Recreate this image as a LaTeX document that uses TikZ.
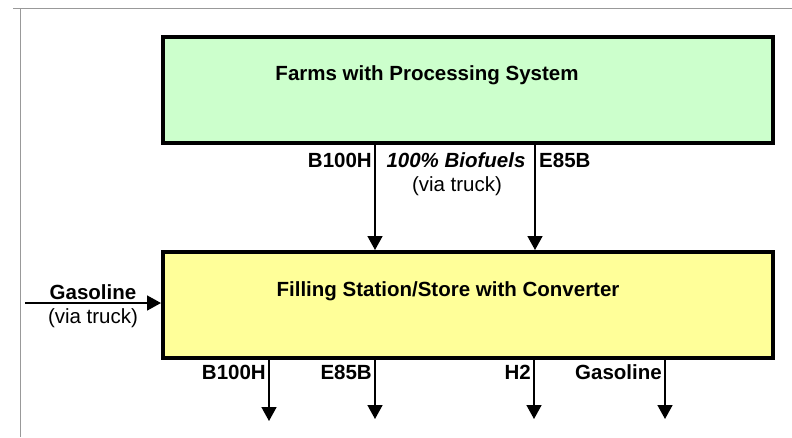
\documentclass[tikz,border=0pt]{standalone}
\usepackage{fontspec}
\setmainfont{Liberation Sans}
\usetikzlibrary{arrows.meta}

\definecolor{farmgreen}{RGB}{204,255,204}
\definecolor{storeyellow}{RGB}{255,255,153}

\begin{document}
\begin{tikzpicture}[x=1pt, y=-1pt]
    \tikzstyle{every node}=[inner sep=0pt, font=\fontsize{20.5}{24}\selectfont];
    \tikzstyle{box}=[draw, line width=4pt, minimum width=610pt, minimum height=106pt];
    \tikzstyle{flow}=[line width=1.6pt, -{Triangle[width=15pt,length=14pt]}];
    \useasboundingbox (0,0) rectangle (792,437);
    \draw[gray!80, line width=1pt] (13,8) -- (792,8) (20,8) -- (20,437);
    \node[box, fill=farmgreen] (F) at (468,90) {};
    \node[box, fill=storeyellow] (S) at (468,305) {};
    \node[font=\fontsize{20.5}{24}\selectfont\bfseries] (Ft) at (427,75) {Farms with Processing System};
    \node[font=\fontsize{20.5}{24}\selectfont\bfseries] (St) at (448,291) {Filling Station/Store with Converter};
    \coordinate (b1) at (375,0);
    \coordinate (e1) at (535,0);
    \draw[flow] (F.south -| b1) -- (S.north -| b1);
    \draw[flow] (F.south -| e1) -- (S.north -| e1);
    \node[anchor=east, font=\fontsize{20.5}{24}\selectfont\bfseries] (Fb) at (372,160) {B100H};
    \node[font=\fontsize{20.5}{24}\selectfont\bfseries\itshape] (Bio) at (456,160) {100\% Biofuels};
    \node (Via) at (457,186) {(via truck)};
    \node[anchor=west, font=\fontsize{20.5}{24}\selectfont\bfseries] (Fe) at (539,160) {E85B};
    \coordinate (G) at (25,303);
    \draw[flow] (G) -- (S.west |- G);
    \node[font=\fontsize{20.5}{24}\selectfont\bfseries] (Gl) at (93,292) {Gasoline};
    \node (Gv) at (93,318) {(via truck)};
    \coordinate (o1) at (269,421);
    \coordinate (o2) at (375,419);
    \coordinate (o3) at (534,419);
    \coordinate (o4) at (665,419);
    \draw[flow] (S.south -| o1) -- (o1);
    \draw[flow] (S.south -| o2) -- (o2);
    \draw[flow] (S.south -| o3) -- (o3);
    \draw[flow] (S.south -| o4) -- (o4);
    \node[anchor=east, font=\fontsize{20.5}{24}\selectfont\bfseries] (Ob) at (266,372) {B100H};
    \node[anchor=east, font=\fontsize{20.5}{24}\selectfont\bfseries] (Oe) at (372,372) {E85B};
    \node[anchor=east, font=\fontsize{20.5}{24}\selectfont\bfseries] (Oh) at (531,372) {H2};
    \node[anchor=east, font=\fontsize{20.5}{24}\selectfont\bfseries] (Og) at (662,372) {Gasoline};
  \end{tikzpicture}
\end{document}
